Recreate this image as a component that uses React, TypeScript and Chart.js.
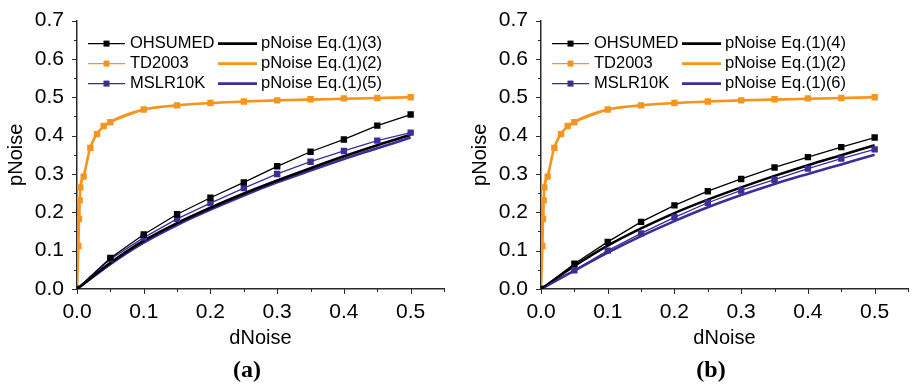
import { useEffect, useRef } from 'react';
import { Chart, registerables } from 'chart.js';

Chart.register(...registerables);

// dNoise sampling of the ranking data sets
const dNoiseSteps = [0, 0.05, 0.1, 0.15, 0.2, 0.25, 0.3, 0.35, 0.4, 0.45, 0.5];
// TD2003 is sampled more densely near zero
const dNoiseTD = [0, 0.002, 0.003, 0.004, 0.005, 0.01, 0.02, 0.03, 0.04, 0.05, 0.1, 0.15, 0.2, 0.25, 0.3, 0.35, 0.4, 0.45, 0.5];

const td2003 = [0, 0.112, 0.183, 0.231, 0.265, 0.293, 0.368, 0.404, 0.425, 0.435, 0.468, 0.479, 0.485, 0.489, 0.492, 0.495, 0.497, 0.498, 0.5];
const eq12 = [0, 0.11, 0.18, 0.23, 0.265, 0.295, 0.37, 0.405, 0.424, 0.436, 0.468, 0.479, 0.485, 0.489, 0.492, 0.494, 0.496, 0.498, 0.5];

// panel (a)
const ohsumedA = [0, 0.081, 0.142, 0.195, 0.238, 0.278, 0.32, 0.358, 0.39, 0.426, 0.455];
const mslrA = [0, 0.078, 0.134, 0.183, 0.224, 0.263, 0.3, 0.332, 0.36, 0.387, 0.408];
const eq13 = [0, 0.068, 0.126, 0.172, 0.212, 0.249, 0.283, 0.315, 0.346, 0.375, 0.402];
const eq15 = [0, 0.065, 0.121, 0.167, 0.207, 0.244, 0.278, 0.309, 0.339, 0.367, 0.395];

// panel (b)
const ohsumedB = [0, 0.066, 0.123, 0.175, 0.218, 0.255, 0.287, 0.317, 0.344, 0.37, 0.395];
const mslrB = [0, 0.049, 0.1, 0.145, 0.187, 0.225, 0.257, 0.285, 0.314, 0.34, 0.364];
const eq14 = [0, 0.06, 0.113, 0.158, 0.198, 0.233, 0.265, 0.295, 0.323, 0.349, 0.375];
const eq16 = [0, 0.048, 0.095, 0.138, 0.177, 0.213, 0.245, 0.274, 0.3, 0.325, 0.35];

const BLACK = '#000000';
const ORANGE = '#F7941E';
const PURPLE = '#3B2E98';
const AXIS = '#2a2a2a';
const SANS = "'Liberation Sans', Arial, sans-serif";

const toPoints = (xs: number[], ys: number[]) => xs.map((x, i) => ({ x, y: ys[i] }));

const dataLine = (label: string, xs: number[], ys: number[], color: string) => ({
  label,
  data: toPoints(xs, ys),
  borderColor: color,
  backgroundColor: color,
  borderWidth: 1.3,
  pointStyle: 'rect',
  pointRadius: 4.5,
  pointBorderWidth: 0,
  tension: 0,
});

const eqLine = (label: string, xs: number[], ys: number[], color: string, width = 2.6) => ({
  label,
  data: toPoints(xs, ys),
  borderColor: color,
  backgroundColor: color,
  borderWidth: width,
  pointRadius: 0,
  cubicInterpolationMode: 'monotone',
});

const isMajor = (v: number) => Math.round(v * 100) % 10 === 0;

// draws tick marks (major/minor), the in-plot two-column legend and the panel caption
const decorPlugin = {
  id: 'decor',
  afterDraw(chart: any, _args: any, opts: any) {
    const { ctx, chartArea, scales } = chart;
    const { left, top, bottom } = chartArea;
    ctx.save();
    ctx.strokeStyle = AXIS;
    ctx.lineWidth = 1;
    for (const t of scales.x.ticks) {
      const px = Math.round(scales.x.getPixelForValue(t.value)) + 0.5;
      const len = isMajor(t.value) ? 5 : 3;
      ctx.beginPath();
      ctx.moveTo(px, bottom);
      ctx.lineTo(px, bottom + len);
      ctx.stroke();
    }
    for (const t of scales.y.ticks) {
      const py = Math.round(scales.y.getPixelForValue(t.value)) + 0.5;
      const len = isMajor(t.value) ? 5 : 3;
      ctx.beginPath();
      ctx.moveTo(left, py);
      ctx.lineTo(left - len, py);
      ctx.stroke();
    }

    // legend
    const sets = chart.data.datasets;
    ctx.font = `16.5px ${SANS}`;
    ctx.textBaseline = 'middle';
    ctx.textAlign = 'left';
    const drawEntry = (ds: any, x0: number, x1: number, tx: number, y: number) => {
      ctx.strokeStyle = ds.borderColor;
      ctx.lineWidth = ds.borderWidth;
      ctx.beginPath();
      ctx.moveTo(x0, y);
      ctx.lineTo(x1, y);
      ctx.stroke();
      if (ds.pointRadius > 0) {
        ctx.fillStyle = ds.borderColor;
        ctx.fillRect((x0 + x1) / 2 - 3, y - 3, 6, 6);
      }
      ctx.fillStyle = '#000';
      ctx.fillText(ds.label, tx, y);
    };
    opts.rows.forEach((row: number[], r: number) => {
      const y = top + 23 + 20 * r;
      drawEntry(sets[row[0]], left + 11, left + 48, left + 53, y);
      drawEntry(sets[row[1]], left + 141, left + 180, left + 184, y);
    });

    // caption
    ctx.font = `bold 24px 'Liberation Serif', 'Times New Roman', serif`;
    ctx.textAlign = 'center';
    ctx.fillStyle = '#000';
    ctx.fillText(opts.caption, left + 170, 371);
    ctx.restore();
  },
};

function makeConfig(datasets: any[], rows: number[][], caption: string): any {
  return {
    type: 'line',
    data: { datasets },
    plugins: [decorPlugin],
    options: {
      animation: false,
      responsive: false,
      events: [],
      layout: { padding: { top: 15, right: 3, left: 0, bottom: 0 } },
      plugins: {
        legend: { display: false },
        tooltip: { enabled: false },
        decor: { rows, caption },
      },
      scales: {
        x: {
          type: 'linear',
          min: 0,
          max: 0.55,
          afterFit: (s: any) => { s.height = 99; },
          border: { display: true, color: AXIS, width: 1.5 },
          grid: { drawOnChartArea: false, drawTicks: true, tickLength: 5, tickColor: 'rgba(0,0,0,0)' },
          ticks: {
            stepSize: 0.05,
            autoSkip: false,
            maxRotation: 0,
            padding: 6,
            color: '#000',
            font: { family: SANS, size: 21 },
            callback: (v: number) => (isMajor(v) ? v.toFixed(1) : ''),
          },
          title: {
            display: true,
            text: 'dNoise',
            color: '#000',
            font: { family: SANS, size: 20 },
            padding: { top: 0, bottom: 38 },
          },
        },
        y: {
          type: 'linear',
          min: 0,
          max: 0.7,
          afterFit: (s: any) => { s.width = 77; },
          border: { display: true, color: AXIS, width: 1.5 },
          grid: { drawOnChartArea: false, drawTicks: true, tickLength: 5, tickColor: 'rgba(0,0,0,0)' },
          ticks: {
            stepSize: 0.05,
            autoSkip: false,
            padding: 8,
            color: '#000',
            font: { family: SANS, size: 21 },
            callback: (v: number) => (isMajor(v) ? v.toFixed(1) : ''),
          },
          title: {
            display: true,
            text: 'pNoise',
            color: '#000',
            font: { family: SANS, size: 20 },
            padding: { top: 4, bottom: 0 },
          },
        },
      },
    },
  };
}

function Panel({ datasets, rows, caption, left }: { datasets: any[]; rows: number[][]; caption: string; left: number }) {
  const ref = useRef<HTMLCanvasElement | null>(null);
  useEffect(() => {
    if (!ref.current) return;
    const chart = new Chart(ref.current, makeConfig(datasets, rows, caption));
    return () => chart.destroy();
  }, [datasets, rows, caption]);
  return (
    <div style={{ position: 'absolute', left, top: 0, width: 450, height: 388 }}>
      <canvas ref={ref} width={450} height={388} />
    </div>
  );
}

const panelA = [
  dataLine('OHSUMED', dNoiseSteps, ohsumedA, BLACK),
  dataLine('TD2003', dNoiseTD, td2003, ORANGE),
  dataLine('MSLR10K', dNoiseSteps, mslrA, PURPLE),
  eqLine('pNoise Eq.(1)(3)', dNoiseSteps, eq13, BLACK),
  eqLine('pNoise Eq.(1)(2)', dNoiseTD, eq12, ORANGE),
  eqLine('pNoise Eq.(1)(5)', dNoiseSteps, eq15, PURPLE),
];

const panelB = [
  dataLine('OHSUMED', dNoiseSteps, ohsumedB, BLACK),
  dataLine('TD2003', dNoiseTD, td2003, ORANGE),
  dataLine('MSLR10K', dNoiseSteps, mslrB, PURPLE),
  eqLine('pNoise Eq.(1)(4)', dNoiseSteps, eq14, BLACK),
  eqLine('pNoise Eq.(1)(2)', dNoiseTD, eq12, ORANGE),
  eqLine('pNoise Eq.(1)(6)', dNoiseSteps, eq16, PURPLE),
];

const legendRows = [[0, 3], [1, 4], [2, 5]];

export default function App() {
  return (
    <div style={{ position: 'fixed', left: 0, top: 0, width: 914, height: 388, background: '#fff' }}>
      <Panel datasets={panelA} rows={legendRows} caption="(a)" left={0} />
      <Panel datasets={panelB} rows={legendRows} caption="(b)" left={464} />
    </div>
  );
}
